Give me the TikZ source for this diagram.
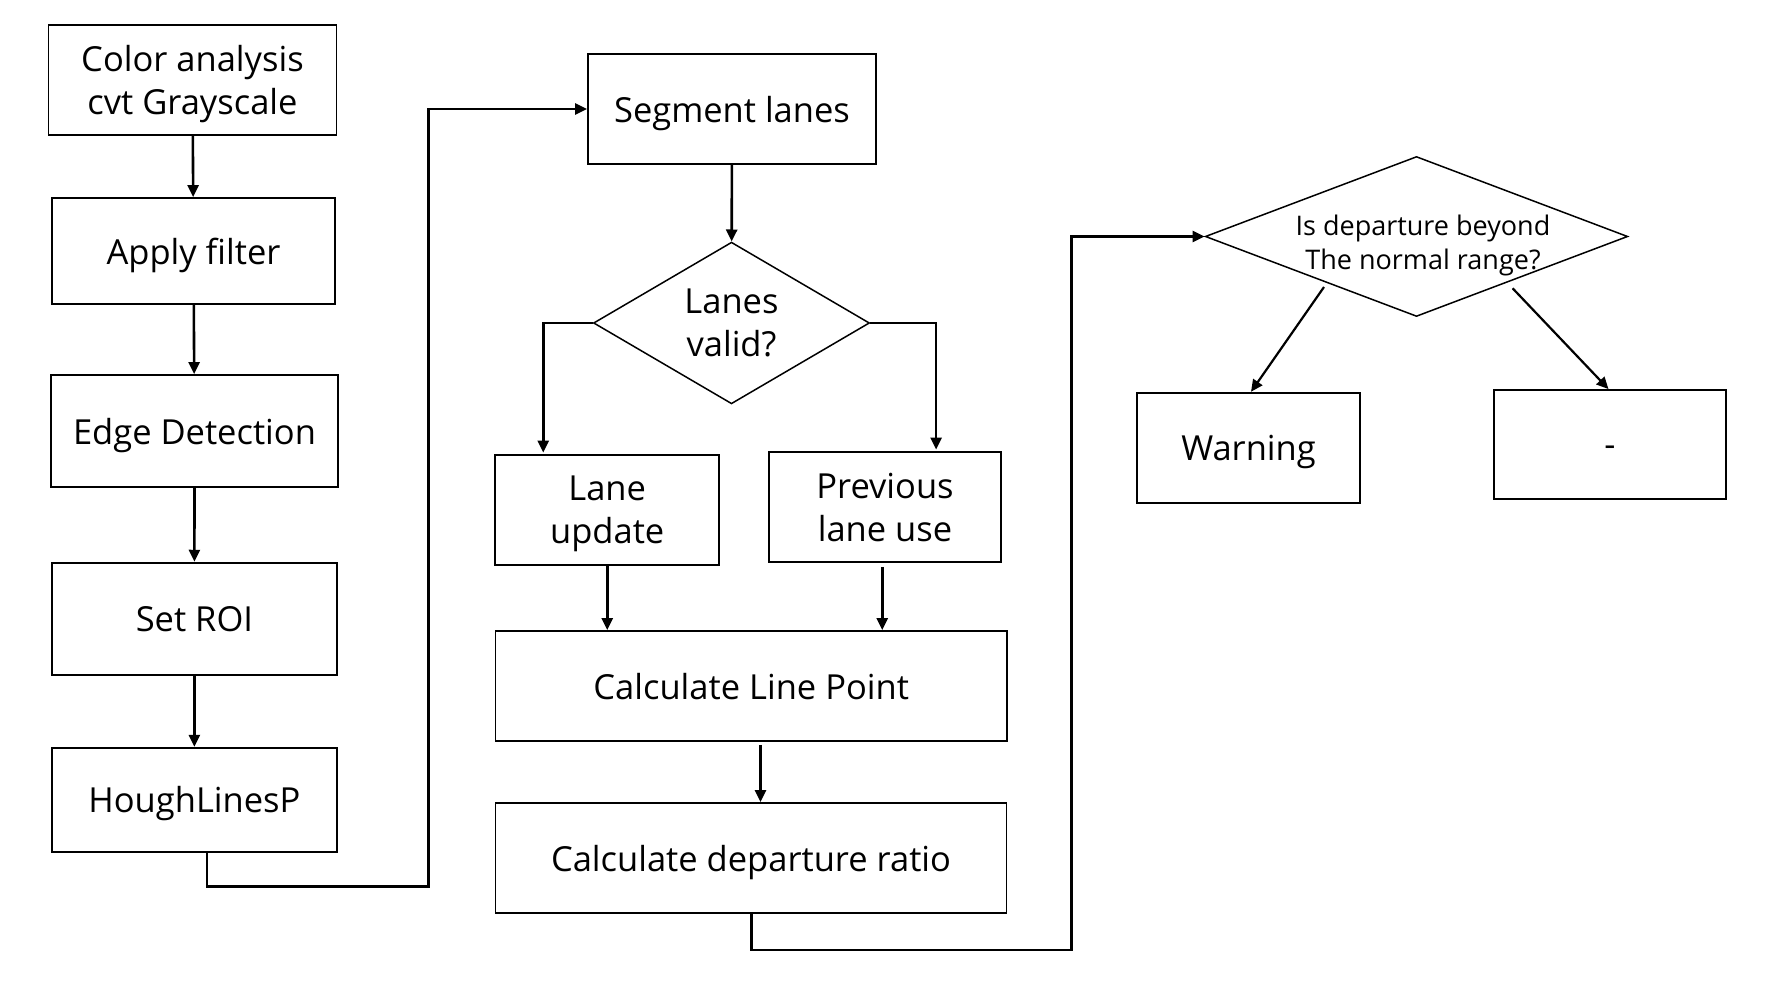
\documentclass[tikz,border=0pt]{standalone}
\usepackage{fontspec}
\setmainfont{Open Sans}
\usetikzlibrary{arrows.meta,shapes.geometric,calc}
\begin{document}
\begin{tikzpicture}[x=1pt,y=1pt,
  box/.style={draw, line width=1.8pt, inner sep=0pt, align=center, text depth=0pt, font=\fontsize{34.5}{43}\selectfont},
  dia/.style={draw, diamond, line width=1.5pt, inner sep=0pt, align=center, text depth=0pt, font=\fontsize{34.5}{43}\selectfont},
  arr/.style={line width=2.6pt, -{Triangle[length=12pt,width=11pt]}},
  sarr/.style={line width=2.2pt, -{Triangle[length=12pt,width=11pt]}},
]
\useasboundingbox (0,0) rectangle (1767,-981);
\fill[white] (0,0) rectangle (1767,-981);

% left column
\node[box, minimum width=288pt, minimum height=110pt] (b1) at (192.5,-80) {Color analysis\\cvt Grayscale};
\node[box, minimum width=283.5pt, minimum height=106pt] (b2) at (193.5,-251) {Apply filter};
\node[box, minimum width=287.4pt, minimum height=112pt] (b3) at (194.5,-431) {Edge Detection};
\node[box, minimum width=285.4pt, minimum height=112.3pt] (b4) at (194.4,-618.8) {Set ROI};
\node[box, minimum width=285.4pt, minimum height=104pt] (b5) at (194.4,-799.7) {HoughLinesP};

% middle column
\node[box, minimum width=288pt, minimum height=110pt] (seg) at (732,-109) {Segment lanes};
\node[dia, minimum width=276pt, minimum height=161pt] (d1) at (731.5,-323) {Lanes\\valid?};
\node[box, minimum width=224pt, minimum height=110pt] (lu) at (607.2,-510) {Lane\\update};
\node[box, minimum width=232.3pt, minimum height=110pt] (plu) at (885,-507) {Previous\\lane use};
\node[box, minimum width=511.5pt, minimum height=110pt] (clp) at (751.2,-686) {Calculate Line Point};
\node[box, minimum width=511pt, minimum height=110pt] (cdr) at (751,-858) {Calculate departure ratio};

% right part
\node[draw, diamond, line width=1.5pt, inner sep=0pt, minimum width=422.5pt, minimum height=160pt] (d2) at (1416.5,-236.5) {};
\node[align=center, inner sep=0pt, font=\fontsize{27}{34}\selectfont] (d2t) at (1423,-245.5) {Is departure beyond\\The normal range?};
\node[box, minimum width=223pt, minimum height=110pt] (warn) at (1248.5,-447.7) {Warning};
\node[box, minimum width=232pt, minimum height=109pt, text height=24.6pt] (dash) at (1610,-444.5) {-};

\coordinate (c1) at (428.6,-886.5);
\coordinate (c2) at (1071.5,-950);

% connectors
\draw[arr] (b1) -- (b2);
\draw[arr] (b2) -- (b3);
\draw[arr] (b3) -- (b4);
\draw[arr] (b4) -- (b5);
\draw[arr] ([xshift=12.6pt]b5.south) |- (c1) |- (seg.west);
\draw[arr] (seg) -- (d1);
\draw[arr] (d1.west) -| ([xshift=-64pt,yshift=1.5pt]lu.north);
\draw[arr] (d1.east) -| ([xshift=51.1pt,yshift=1.5pt]plu.north);
\draw[arr] (lu.south) -- (lu.south |- clp.north);
\draw[arr] ([xshift=-2.8pt,yshift=-4pt]plu.south) -- ([xshift=-2.8pt]plu.south |- clp.north);
\draw[arr] ([xshift=9.3pt,yshift=-3pt]clp.south) -- ([xshift=9.3pt]clp.south |- cdr.north);
\draw[arr] ([xshift=0.5pt]cdr.south) |- (c2) |- (d2.west);
\draw[sarr] ([shift={(-92.5pt,-50.5pt)}]d2.center) -- ([xshift=2.5pt]warn.north);
\draw[sarr] ([shift={(96.1pt,-51.8pt)}]d2.center) -- ([xshift=-1.5pt]dash.north);
\end{tikzpicture}
\end{document}
